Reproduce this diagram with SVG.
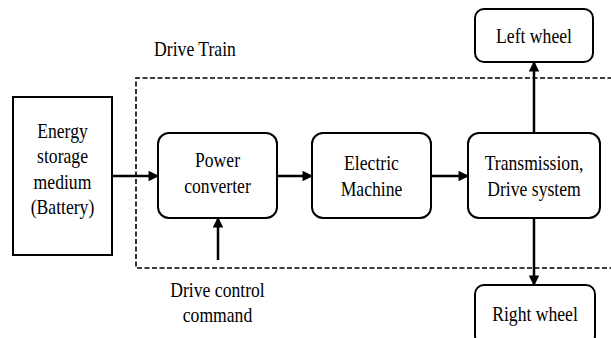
<svg xmlns="http://www.w3.org/2000/svg" width="611" height="338" viewBox="0 0 611 338">
<defs>
<style>
.box{fill:#fff;stroke:#000;stroke-width:2}
.dash{fill:none;stroke:#000;stroke-width:1.6;stroke-dasharray:5,2.5}
.conn{stroke:#000;stroke-width:2.5;fill:none}
.t{font-family:"Times New Roman","Liberation Serif","DejaVu Serif",serif;font-size:21px;fill:#000;text-anchor:middle}
</style>
<marker id="ah" viewBox="0 0 10 10" refX="9" refY="5" markerWidth="4.6" markerHeight="4.2" orient="auto" markerUnits="strokeWidth">
<path d="M0,0 L10,5 L0,10 Z" fill="#000"/>
</marker>
</defs>
<rect width="611" height="338" fill="#fff"/>
<g id="drive-train">
<path class="dash" d="M620,78 H136 V268 H620"/>
<g transform="translate(195,56) scale(0.84,1)"><text class="t" x="0" y="0">Drive Train</text></g>
</g>
<g id="battery">
<rect class="box" x="13" y="97" width="99" height="158"/>
<g transform="translate(62.5,0) scale(0.84,1)">
<text class="t" x="0" y="138">Energy</text>
<text class="t" x="0" y="163">storage</text>
<text class="t" x="0" y="189">medium</text>
<text class="t" x="0" y="214">(Battery)</text>
</g>
</g>
<g id="power-converter">
<rect class="box" x="158" y="133" width="119" height="85" rx="11"/>
<g transform="translate(217.5,0) scale(0.84,1)">
<text class="t" x="0" y="167">Power</text>
<text class="t" x="0" y="193">converter</text>
</g>
</g>
<g id="electric-machine">
<rect class="box" x="312" y="133" width="119" height="85" rx="11"/>
<g transform="translate(371.5,0) scale(0.84,1)">
<text class="t" x="0" y="170">Electric</text>
<text class="t" x="0" y="196">Machine</text>
</g>
</g>
<g id="transmission">
<rect class="box" x="468" y="133" width="132" height="85" rx="11"/>
<g transform="translate(534,0) scale(0.84,1)">
<text class="t" x="0" y="170">Transmission,</text>
<text class="t" x="0" y="196">Drive system</text>
</g>
</g>
<g id="left-wheel">
<rect class="box" x="475" y="9" width="118" height="53" rx="9"/>
<g transform="translate(534,43) scale(0.84,1)"><text class="t" x="0" y="0">Left wheel</text></g>
</g>
<g id="right-wheel">
<rect class="box" x="475" y="285" width="120" height="60" rx="9"/>
<g transform="translate(535,321) scale(0.84,1)"><text class="t" x="0" y="0">Right wheel</text></g>
</g>
<g id="drive-control">
<g transform="translate(217.5,0) scale(0.84,1)">
<text class="t" x="0" y="297">Drive control</text>
<text class="t" x="0" y="322">command</text>
</g>
</g>
<g id="connectors">
<line class="conn" x1="112" y1="176" x2="158" y2="176" marker-end="url(#ah)"/>
<line class="conn" x1="277" y1="176" x2="312" y2="176" marker-end="url(#ah)"/>
<line class="conn" x1="431" y1="176" x2="468" y2="176" marker-end="url(#ah)"/>
<line class="conn" x1="534" y1="133" x2="534" y2="62" marker-end="url(#ah)"/>
<line class="conn" x1="534" y1="218" x2="534" y2="285" marker-end="url(#ah)"/>
<line class="conn" x1="218" y1="260" x2="218" y2="218" marker-end="url(#ah)"/>
</g>
</svg>
